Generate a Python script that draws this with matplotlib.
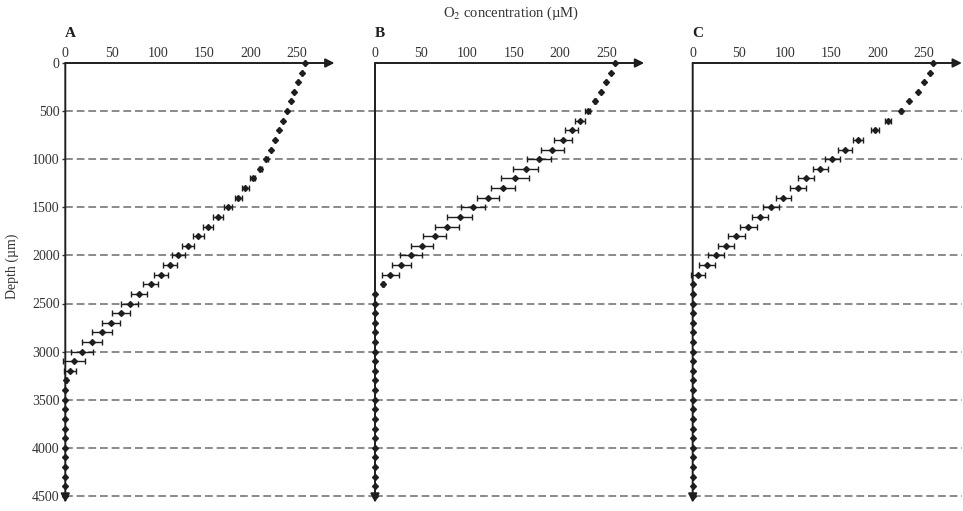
import matplotlib.pyplot as plt

plt.rcParams['font.family'] = ['Liberation Serif', 'DejaVu Serif']

# depth grid of the microprofiles (µm)
depth = list(range(0, 4600, 100))

o2_a = [259.6, 255.6, 251.2, 247.3, 243.7, 239.3, 235.5, 231.4, 226.8, 222.4,
        217.3, 210.9, 202.6, 194.6, 187.0, 176.0, 165.0, 154.5, 143.8, 132.7,
        122.1, 113.2, 103.1, 92.3, 79.6, 69.6, 59.9, 49.4, 39.8, 28.8,
        18.1, 9.4, 5.5, 1.0] + [0.0] * 12
err_a = [0] * 10 + [1.5, 2, 2.5, 3.8, 4, 4.7, 5, 5.4, 5.8, 6.2,
                    6.9, 7.4, 7.6, 8.3, 8.9, 9.2, 9.8, 10, 10.5, 11.2,
                    11.4, 12, 6.5, 1] + [0] * 12

o2_b = [259.6, 255.1, 250.0, 243.9, 237.7, 229.9, 221.9, 212.6, 203.0, 191.7,
        177.3, 163.0, 151.4, 138.4, 122.2, 106.0, 91.6, 78.2, 64.5, 50.8,
        38.6, 28.5, 16.6, 8.6] + [0.0] * 22
err_b = [0, 0, 0, 0, 1, 3, 5.2, 6.8, 10, 12.6,
         13.3, 13.7, 15, 13.3, 11.7, 12.8, 13.5, 12.8, 12.6, 11.7,
         11.9, 10.6, 9.5, 1.5] + [0] * 22

o2_c = [260.0, 256.5, 250.4, 243.9, 233.5, 224.9, 211.1, 197.4, 178.7, 165.0,
        151.0, 138.0, 122.5, 113.5, 98.0, 85.0, 72.4, 60.1, 47.1, 36.3,
        25.2, 15.1, 5.4] + [0.0] * 23
err_c = [0, 0, 0, 0, 0, 1, 2.9, 4.5, 5.9, 7.4,
         7.9, 8.1, 9, 8.6, 7.9, 8.6, 8.8, 9.2, 9.2, 8.8,
         9, 8.8, 7.4] + [0] * 23

panels = ['A', 'B', 'C']
xticks = [0, 50, 100, 150, 200, 250]
yticks = [0, 500, 1000, 1500, 2000, 2500, 3000, 3500, 4000, 4500]

W, H = 963, 511
fig = plt.figure(figsize=(W / 100, H / 100), dpi=100)

px_per_unit = 0.925      # horizontal scale, pixels per µM
px_per_um = 0.0962       # vertical scale, pixels per µm
top_px = 63
y_max = 4650
ink = '#1e1e1e'
label_col = '#333333'

# left edge (x = 0) of each panel in pixels; each panel runs to the next one
lefts = [65.3, 375.0, 692.7]
rights = [375.0, 692.7, 962.0]
data = [(o2_a, err_a), (o2_b, err_b), (o2_c, err_c)]

for i, (name, (o2, err)) in enumerate(zip(panels, data)):
    l, r = lefts[i], rights[i]
    height_px = y_max * px_per_um
    ax = fig.add_axes([l / W, 1 - (top_px + height_px) / H,
                       (r - l) / W, height_px / H])
    ax.set_xlim(0, (r - l) / px_per_unit)
    ax.set_ylim(y_max, 0)
    for s in ax.spines.values():
        s.set_visible(False)

    for d in yticks[1:]:
        ax.axhline(d, color='#8a8a8a', lw=1.4, ls=(0, (4, 2)), zorder=1)

    # axis arrows
    ax.annotate('', xy=(291, 0), xytext=(0, 0), annotation_clip=False,
                arrowprops=dict(arrowstyle='-|>', color=ink, lw=1.4,
                                mutation_scale=13, shrinkA=0, shrinkB=0))
    ax.annotate('', xy=(0, 4570), xytext=(0, 0), annotation_clip=False,
                arrowprops=dict(arrowstyle='-|>', color=ink, lw=1.4,
                                mutation_scale=13, shrinkA=0, shrinkB=0))

    eb = ax.errorbar(o2, depth, xerr=err, fmt='D', ms=3.0, color=ink,
                     ecolor=ink, elinewidth=1, capsize=2, capthick=1, zorder=3)
    for art in eb.get_children():
        art.set_clip_on(False)

    ax.xaxis.tick_top()
    ax.set_xticks(xticks)
    ax.tick_params(axis='x', length=0, pad=2.5, labelsize=10,
                   colors=label_col)
    if i == 0:
        ax.set_yticks(yticks)
        ax.tick_params(axis='y', length=2, width=1, pad=2, labelsize=10,
                       colors=label_col)
    else:
        ax.set_yticks([])

    ax.text(0, 1 + 29 / height_px, name, transform=ax.transAxes,
            fontsize=11, fontweight='bold', color=ink, ha='left', va='center')

fig.text(511 / W, 1 - 13 / H, 'O$_2$ concentration (µM)', ha='center',
         va='center', fontsize=10.5, color=label_col,
         math_fontfamily='stix')
fig.text(12 / W, 1 - 266 / H, 'Depth (µm)', rotation=90, ha='center',
         va='center', fontsize=10, color=label_col)

fig.savefig('out.png', dpi=100)
